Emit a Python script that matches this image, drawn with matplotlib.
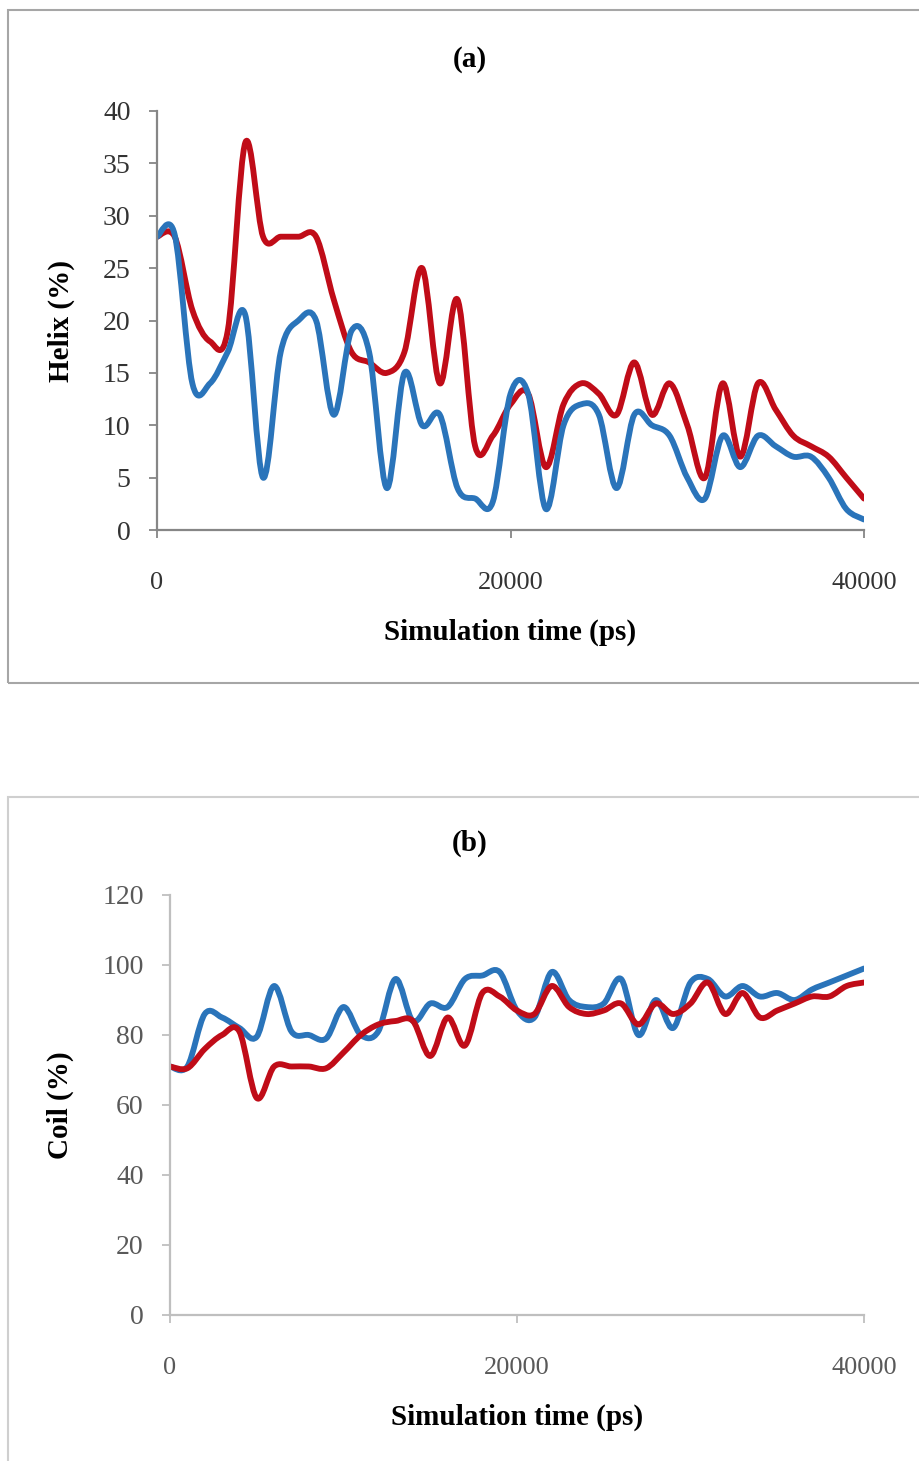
import matplotlib.pyplot as plt
from matplotlib.path import Path
from matplotlib.patches import PathPatch, Rectangle

plt.rcParams['font.family'] = ['Liberation Serif', 'DejaVu Serif']

# simulation time (ps), one sample every 1000 ps
time_ps = list(range(0, 40001, 1000))

helix_red = [28, 28, 21, 18, 19, 37, 28, 28, 28, 28, 22, 17, 16, 15, 17, 25, 14, 22, 8, 9,
             12, 13, 6, 12, 14, 13, 11, 16, 11, 14, 10, 5, 14, 7, 14, 11.5, 9, 8, 7, 5, 3]
helix_blue = [28, 28.2, 14, 14, 17, 20.5, 5, 17, 20, 20, 11, 19, 17, 4, 15, 10, 11, 4, 3, 2.7,
              13, 13, 2, 10, 12, 11, 4, 11, 10, 9, 5, 3, 9, 6, 9, 8, 7, 7, 5, 2, 1]

coil_red = [71, 70.5, 76, 80, 81, 62, 71, 71, 71, 70.5, 75, 80, 83, 84, 84, 74, 85, 77, 92, 91,
            87, 86, 94, 88, 86, 87, 89, 83, 89, 86, 89, 95, 86, 92, 85, 87, 89, 91, 91, 94, 95]
coil_blue = [71, 71, 86, 85, 82, 79.5, 94, 81, 80, 79, 88, 80, 81, 96, 84, 89, 88, 96, 97, 98,
             87, 85, 98, 90, 88, 89, 96, 80, 90, 82, 95, 96, 91, 94, 91, 92, 90, 93, 95, 97, 99]

RED = '#C00C18'
BLUE = '#2A74BA'


def smooth_path(x, y):
    # Excel-style smoothed line as cubic bezier segments
    n = len(x)
    verts = [(x[0], y[0])]
    codes = [Path.MOVETO]
    for i in range(n - 1):
        x0, y0 = (x[i - 1], y[i - 1]) if i > 0 else (x[i], y[i])
        x3, y3 = (x[i + 2], y[i + 2]) if i + 2 < n else (x[i + 1], y[i + 1])
        c1 = (x[i] + (x[i + 1] - x0) / 6, y[i] + (y[i + 1] - y0) / 6)
        c2 = (x[i + 1] - (x3 - x[i]) / 6, y[i + 1] - (y3 - y[i]) / 6)
        verts += [c1, c2, (x[i + 1], y[i + 1])]
        codes += [Path.CURVE4] * 3
    return Path(verts, codes)


def draw_panel(ax, series, ymax, ystep, ylabel, title, title_x, tick_color, spine_color):
    for vals, col in series:
        ax.add_patch(PathPatch(smooth_path(time_ps, vals), facecolor='none',
                               edgecolor=col, lw=4.2, capstyle='round', joinstyle='round'))
    ax.set_xlim(0, 40000)
    ax.set_ylim(0, ymax)
    ax.set_xticks([0, 20000, 40000])
    ax.set_yticks(range(0, ymax + 1, ystep))
    for s in ['top', 'right']:
        ax.spines[s].set_visible(False)
    for s in ['left', 'bottom']:
        ax.spines[s].set_color(spine_color)
        ax.spines[s].set_linewidth(1.6)
    ax.tick_params(axis='x', colors=spine_color, labelcolor=tick_color, labelsize=19,
                   length=6, width=1.3, pad=24)
    ax.tick_params(axis='y', colors=spine_color, labelcolor=tick_color, labelsize=20,
                   length=6, width=1.3, pad=13)
    ax.set_xlabel('Simulation time (ps)', fontsize=21, fontweight='bold', labelpad=18)
    ax.set_ylabel(ylabel, fontsize=21, fontweight='bold', labelpad=20)
    ax.set_title(title, fontsize=21, fontweight='bold', pad=32, x=title_x)


fig = plt.figure(figsize=(9.19, 14.61), dpi=100)

# light grey frames around each panel
fig.add_artist(Rectangle((8 / 919, 1 - 683 / 1461), 1.0, 673 / 1461, transform=fig.transFigure,
                         facecolor='none', edgecolor='#A6A6A6', lw=1.5))
fig.add_artist(Rectangle((8 / 919, -0.1), 1.0, 0.1 + 1 - 797 / 1461, transform=fig.transFigure,
                         facecolor='none', edgecolor='#CFCFCF', lw=1.5))

ax1 = fig.add_axes([157 / 919, 1 - 530 / 1461, 707 / 919, 419 / 1461])
draw_panel(ax1, [(helix_red, RED), (helix_blue, BLUE)], 40, 5, 'Helix (%)', '(a)', 0.443,
           '#333333', '#868686')

ax2 = fig.add_axes([170 / 919, 1 - 1315 / 1461, 694 / 919, 420 / 1461])
draw_panel(ax2, [(coil_blue, BLUE), (coil_red, RED)], 120, 20, 'Coil (%)', '(b)', 0.432,
           '#595959', '#BFBFBF')

fig.savefig('out.png', dpi=100)
